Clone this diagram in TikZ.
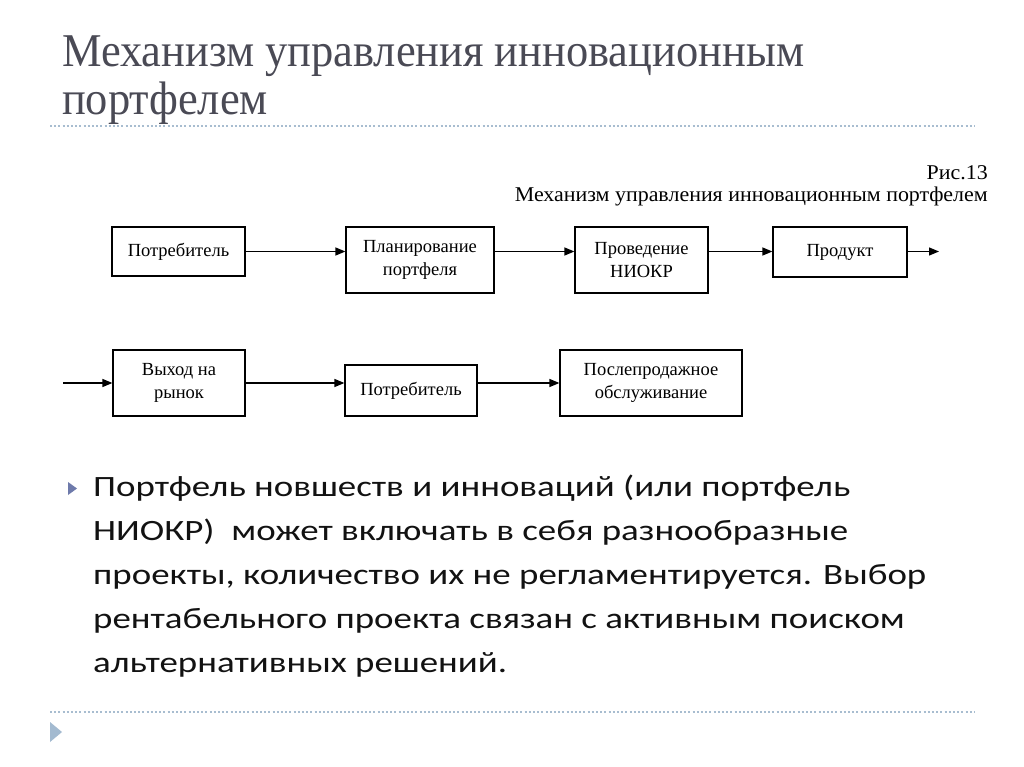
\documentclass[tikz,border=0pt]{standalone}
\usepackage{fontspec}
\setmainfont{Liberation Serif}
\newfontfamily\bodyfont{Carlito}
\usetikzlibrary{arrows.meta}
\definecolor{titlegrey}{HTML}{4A4A55}
\definecolor{dotblue}{HTML}{A8BDD0}
\definecolor{bulletblue}{HTML}{6E7AAB}
\definecolor{cornerblue}{HTML}{A3BAD0}
\newsavebox\titlebox
\newsavebox\capbox
\newsavebox\bodybox
\begin{document}
\sbox\titlebox{\fontsize{47}{50}\selectfont Механизм управления инновационным}%
\sbox\capbox{\fontsize{21}{24}\selectfont Механизм управления инновационным портфелем}%
\sbox\bodybox{\bodyfont\fontsize{29.5}{35}\selectfont Портфель новшеств и инноваций (или портфель}%
\pgfmathsetmacro\tsx{742/\the\wd\titlebox}%
\pgfmathsetmacro\csx{473/\the\wd\capbox}%
\pgfmathsetmacro\bsx{757/\the\wd\bodybox}%
\begin{tikzpicture}[x=1pt,y=-1pt,
  fbox/.style={draw=black, line width=1.2pt, fill=white, align=center, inner sep=0pt,
    font=\fontsize{18.5}{23}\selectfont},
  flow/.style={line width=1.3pt, -{Triangle[length=10pt,width=8pt]}},
  dotline/.style={dotblue, line width=1.6pt, dash pattern=on 2pt off 2.2pt},
  bodyline/.style={anchor=base west, inner sep=0pt, text=black!93}]
\newcommand\bodytext[1]{\scalebox{\bsx}[1]{\bodyfont\fontsize{29.5}{35}\selectfont #1}}
\useasboundingbox (0,0) rectangle (1024,767);
\fill[white] (0,0) rectangle (1024,767);
% title
\node[anchor=base west, inner sep=0pt, text=titlegrey] (t1) at (62,67)
  {\scalebox{\tsx}[1]{\fontsize{47}{50}\selectfont Механизм управления инновационным}};
\node[anchor=base west, inner sep=0pt, text=titlegrey] (t2) at (62,115)
  {\scalebox{\tsx}[1]{\fontsize{47}{50}\selectfont портфелем}};
\draw[dotline] (50,126) -- (975,126);
% caption
\node[anchor=base east, inner sep=0pt] (c1) at (988,180)
  {\scalebox{\csx}[1]{\fontsize{21}{24}\selectfont Рис.13}};
\node[anchor=base east, inner sep=0pt] (c2) at (988,202)
  {\scalebox{\csx}[1]{\fontsize{21}{24}\selectfont Механизм управления инновационным портфелем}};
% boxes row 1
\node[fbox, minimum width=133pt, minimum height=49pt] (potr1) at (178.5,251.5) {Потребитель};
\node[fbox, minimum width=148pt, minimum height=66pt] (plan) at (420,260) {Планирование\\портфеля};
\node[fbox, minimum width=133pt, minimum height=66pt] (niokr) at (641.5,260) {Проведение\\НИОКР};
\node[fbox, minimum width=134pt, minimum height=50pt] (prod) at (840,252) {Продукт};
\coordinate (out1) at (939,251.5);
% boxes row 2
\coordinate (in2) at (63,383);
\node[fbox, minimum width=132pt, minimum height=66pt] (vyhod) at (179,383) {Выход на\\рынок};
\node[fbox, minimum width=132pt, minimum height=51pt] (potr2) at (411,390.5) {Потребитель};
\node[fbox, minimum width=182pt, minimum height=66pt] (posle) at (651,383) {Послепродажное\\обслуживание};
% arrows
\draw[flow] (potr1.east) -- (potr1.east -| plan.west);
\draw[flow] (plan.east |- potr1.east) -- (potr1.east -| niokr.west);
\draw[flow] (niokr.east |- potr1.east) -- (potr1.east -| prod.west);
\draw[flow] (prod.east |- out1) -- (out1);
\draw[flow] (in2) -- (vyhod.west);
\draw[flow] (vyhod.east) -- (vyhod.east -| potr2.west);
\draw[flow] (potr2.east |- vyhod.east) -- (posle.west);
% bullet text
\fill[bulletblue] (68,482) -- (77,488.5) -- (68,495) -- cycle;
\node[bodyline] (l1) at (93,496) {\bodytext{Портфель новшеств и инноваций (или портфель}};
\node[bodyline] (l2) at (93,540) {\bodytext{НИОКР)\ \ может включать в себя разнообразные}};
\node[bodyline] (l3) at (93,584) {\bodytext{проекты, количество их не регламентируется. Выбор}};
\node[bodyline] (l4) at (93,628) {\bodytext{рентабельного проекта связан с активным поиском}};
\node[bodyline] (l5) at (93,672) {\bodytext{альтернативных решений.}};
% footer
\draw[dotline] (50,712) -- (975,712);
\fill[cornerblue] (50,722) -- (62,732) -- (50,742) -- cycle;
\end{tikzpicture}
\end{document}
